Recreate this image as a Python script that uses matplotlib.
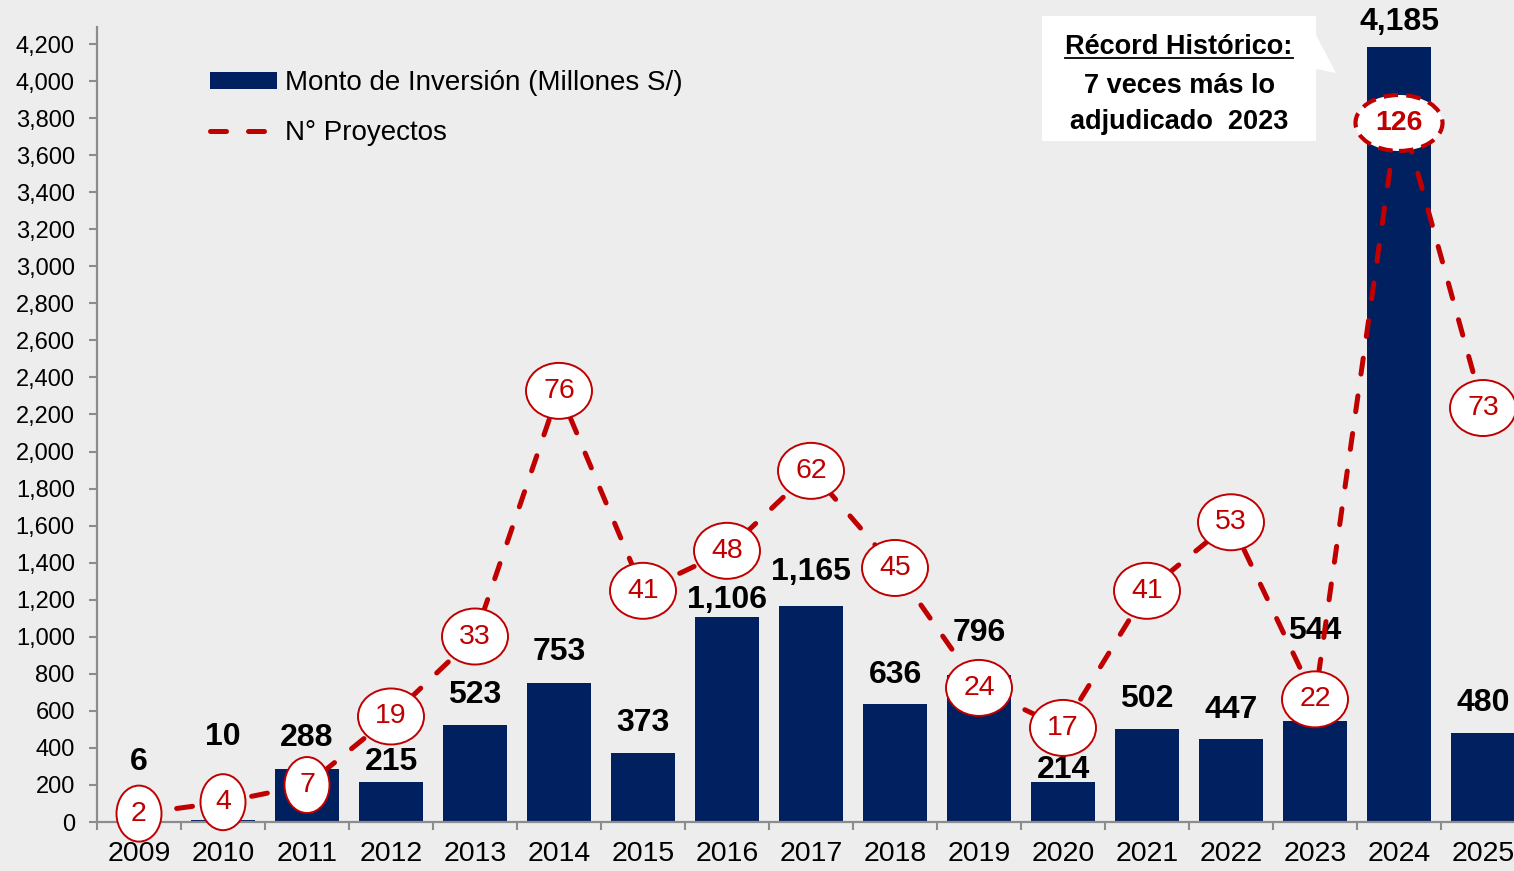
import matplotlib
matplotlib.use("Agg")
import matplotlib.pyplot as plt
from matplotlib.patches import Ellipse, Patch, Polygon
from matplotlib.lines import Line2D
from matplotlib.transforms import ScaledTranslation
from matplotlib.ticker import FuncFormatter

# ---------------- data ----------------
years = [str(y) for y in range(2009, 2026)]
inversion = [6, 10, 288, 215, 523, 753, 373, 1106, 1165, 636, 796, 214, 502, 447, 544, 4185, 480]
proyectos = [2, 4, 7, 19, 33, 76, 41, 48, 62, 45, 24, 17, 41, 53, 22, 126, 73]
yticks = list(range(0, 4201, 200))

# ---------------- layout (not data) ----------------
# centre heights of the bar value labels, as placed in the original (primary axis units)
label_y = [324, 459, 453, 324, 686, 918, 534, 1198, 1350, 794, 1020, 281, 664, 605, 1031, 4320, 642]
ellipse_shift = {15: -3.1}      # the 2024 bubble sits a bit below its point

W, H, DPI = 1514, 871, 100
BG = "#EDEDED"
NAVY = "#002060"
RED = "#C00000"
GREY = "#8C8C8C"

plt.rcParams['font.family'] = ['Liberation Sans', 'DejaVu Sans']

fig = plt.figure(figsize=(W / DPI, H / DPI), dpi=DPI, facecolor=BG)


def fx(px):
    return px / W


def fy(py):
    return 1 - py / H


ax = fig.add_axes([fx(97), fy(822), (1525 - 97) / W, (822 - 27) / H])
ax.set_facecolor('none')

x = list(range(len(years)))
ax.bar(x, inversion, width=0.762, color=NAVY, zorder=1)
ax.set_xlim(-0.5, len(years) - 0.5)
ax.set_ylim(0, 4292)

ax.set_yticks(yticks)
ax.yaxis.set_major_formatter(FuncFormatter(lambda v, p: f"{int(v):,}"))
ax.tick_params(axis='y', which='major', length=6, width=1.5, color=GREY,
               labelsize=17, pad=10, direction='out')

ax.set_xticks(x)
ax.set_xticklabels(years)
ax.tick_params(axis='x', which='major', length=0, labelsize=20.5, pad=14)
ax.set_xticks([i - 0.5 for i in range(len(years) + 1)], minor=True)
ax.tick_params(axis='x', which='minor', length=6, width=1.5, color=GREY, direction='out')

for s in ['top', 'right']:
    ax.spines[s].set_visible(False)
for s in ['left', 'bottom']:
    ax.spines[s].set_color(GREY)
    ax.spines[s].set_linewidth(1.6)
    ax.spines[s].set_zorder(2.5)

# bar value labels
for i, v in enumerate(inversion):
    ax.text(i, label_y[i], f"{v:,}", ha='center', va='center', fontsize=23,
            fontweight='bold', color='black', zorder=3)

# secondary axis: number of projects
ax2 = ax.twinx()
Y2 = (0.53, 139.7)
ax2.set_ylim(*Y2)
ax2.axis('off')
DASH = (3.2, 4.4)
ax2.plot(x, proyectos, color=RED, lw=3.6, dashes=DASH, dash_capstyle='round',
         zorder=3, clip_on=False)

for i, v in enumerate(proyectos):
    yc = v + ellipse_shift.get(i, 0.0)
    n = len(str(v))
    wpx = 24 + 21 * n
    hpx = 56
    trans = fig.dpi_scale_trans + ScaledTranslation(i, yc, ax2.transData)
    if i in ellipse_shift:
        e = Ellipse((0, 0), wpx / DPI, hpx / DPI, transform=trans, fc='white',
                    ec=RED, lw=3.0, linestyle=(0, (3.5, 2.0)), zorder=4, clip_on=False)
        fw = 'bold'
    else:
        e = Ellipse((0, 0), wpx / DPI, hpx / DPI, transform=trans, fc='white',
                    ec=RED, lw=1.4, zorder=4, clip_on=False)
        fw = 'normal'
    ax2.add_patch(e)
    ax2.text(i, yc, str(v), ha='center', va='center', fontsize=20.5, color=RED,
             fontweight=fw, zorder=5, clip_on=False)
ax2.set_ylim(*Y2)

# legend
handles = [Patch(facecolor=NAVY, edgecolor='none'),
           Line2D([], [], color=RED, lw=3.6, dashes=DASH, dash_capstyle='round')]
labels = ["Monto de Inversión (Millones S/)", "N° Proyectos"]
fig.legend(handles, labels, loc='upper left', bbox_to_anchor=(fx(210), fy(70)),
           frameon=False, fontsize=20, handlelength=2.4, handleheight=0.55,
           handletextpad=0.3, labelspacing=0.87, borderpad=0, borderaxespad=0)

# call-out box
pts = [(1042, 16), (1316, 16), (1316, 35), (1336, 73), (1316, 69), (1316, 141), (1042, 141)]
fig.add_artist(Polygon([(fx(a), fy(b)) for a, b in pts], closed=True,
                       transform=fig.transFigure, facecolor='white', edgecolor='none', zorder=6))
t1 = fig.text(fx(1179), fy(54), "Récord Histórico:", ha='center', va='baseline',
              fontsize=19.5, fontweight='bold', zorder=7)
fig.text(fx(1179), fy(93), "7 veces más lo", ha='center', va='baseline',
         fontsize=19.5, fontweight='bold', zorder=7)
fig.text(fx(1179), fy(129), "adjudicado  2023", ha='center', va='baseline',
         fontsize=19.5, fontweight='bold', zorder=7)
fig.canvas.draw()
bb = t1.get_window_extent()
uy = fy(58)
fig.add_artist(Line2D([bb.x0 / W, bb.x1 / W], [uy, uy], color='black', lw=1.3,
                      transform=fig.transFigure, zorder=7))

fig.savefig("out.png", dpi=DPI, facecolor=BG)
